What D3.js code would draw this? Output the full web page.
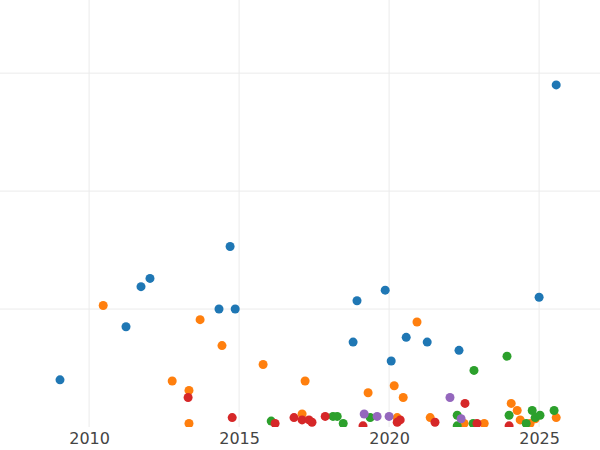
<!DOCTYPE html>
<html><head><meta charset="utf-8">
<script src="https://cdn.jsdelivr.net/npm/d3@7"></script>
<style>body{margin:0;background:#fff}</style>
</head><body>
<script>
var xTicks = [2010, 2015, 2020, 2025];
var yTicks = [1, 2, 3];
var seriesNames = ["blue", "orange", "green", "red", "purple"];
var colors = ["#1f77b4", "#ff7f0e", "#2ca02c", "#d62728", "#9467bd"];

var blueYears = [2009.03, 2011.23, 2011.73, 2012.03, 2014.33, 2014.70, 2014.87, 2018.80, 2018.93, 2019.87, 2020.07, 2020.57, 2021.27, 2022.33, 2025.00, 2025.57];
var blueValues = [0.40, 0.85, 1.19, 1.26, 1.00, 1.53, 1.00, 0.72, 1.07, 1.16, 0.56, 0.76, 0.72, 0.65, 1.10, 2.90];
var orangeYears = [2010.47, 2012.77, 2013.33, 2013.33, 2013.70, 2014.43, 2015.80, 2017.20, 2017.10, 2019.30, 2020.27, 2020.47, 2020.17, 2020.93, 2021.37, 2022.50, 2023.17, 2024.07, 2024.27, 2024.37, 2024.70, 2024.87, 2025.57];
var orangeValues = [1.03, 0.39, 0.31, 0.03, 0.91, 0.69, 0.53, 0.39, 0.11, 0.29, 0.08, 0.25, 0.35, 0.89, 0.08, 0.03, 0.03, 0.20, 0.14, 0.06, 0.03, 0.07, 0.08];
var greenYears = [2016.07, 2018.13, 2018.27, 2018.47, 2019.37, 2022.27, 2022.27, 2022.80, 2022.83, 2023.93, 2024.00, 2024.57, 2024.77, 2024.87, 2025.03, 2025.50];
var greenValues = [0.05, 0.09, 0.09, 0.03, 0.08, 0.10, 0.01, 0.03, 0.48, 0.60, 0.10, 0.03, 0.14, 0.08, 0.10, 0.14];
var redYears = [2013.30, 2014.77, 2016.20, 2016.83, 2017.10, 2017.33, 2017.43, 2017.87, 2019.13, 2020.27, 2020.37, 2021.53, 2022.53, 2022.93, 2024.00];
var redValues = [0.25, 0.08, 0.03, 0.08, 0.06, 0.06, 0.04, 0.09, 0.01, 0.04, 0.06, 0.04, 0.20, 0.03, 0.01];
var purpleYears = [2019.17, 2019.60, 2020.00, 2022.03, 2022.40];
var purpleValues = [0.11, 0.09, 0.09, 0.25, 0.07];

var allYears = [blueYears, orangeYears, greenYears, redYears, purpleYears];
var allValues = [blueValues, orangeValues, greenValues, redValues, purpleValues];

var width = 600, height = 450, plotH = 427;

var x = d3.scaleLinear().domain([2007.03, 2027.03]).range([0, width]);
var y = d3.scaleLinear().domain([0, 3.62]).range([plotH, 0]);

var svg = d3.select("body").append("svg").attr("width", width).attr("height", height);

svg.append("defs").append("clipPath").attr("id", "plot")
  .append("rect").attr("x", 0).attr("y", 0).attr("width", width).attr("height", plotH);

// grid
svg.selectAll("line.hgrid").data(yTicks).enter().append("line")
  .attr("x1", 0).attr("x2", width)
  .attr("y1", function (d) { return y(d); }).attr("y2", function (d) { return y(d); })
  .style("stroke", "#ebebeb").style("stroke-width", 1);
svg.selectAll("line.vgrid").data(xTicks).enter().append("line")
  .attr("y1", 0).attr("y2", plotH)
  .attr("x1", function (d) { return x(d); }).attr("x2", function (d) { return x(d); })
  .style("stroke", "#ebebeb").style("stroke-width", 1);

var xAxis = svg.append("g").attr("transform", "translate(0," + plotH + ")")
  .call(d3.axisBottom(x).tickValues(xTicks).tickFormat(d3.format("d")).tickSize(0).tickPadding(6));
xAxis.select(".domain").remove();
xAxis.selectAll("text").style("font-family", "DejaVu Sans").style("font-size", "16px").style("fill", "#444");

var dots = svg.append("g").attr("clip-path", "url(#plot)");
for (var s = 0; s < seriesNames.length; s++) {
  var pts = allYears[s].map(function (yr, i) { return { x: yr, v: allValues[s][i] }; });
  dots.selectAll("circle.s" + s).data(pts).enter().append("circle")
    .attr("class", "s" + s)
    .attr("cx", function (d) { return x(d.x); })
    .attr("cy", function (d) { return y(d.v); })
    .attr("r", 4.5)
    .style("fill", colors[s]);
}
</script>
</body></html>
